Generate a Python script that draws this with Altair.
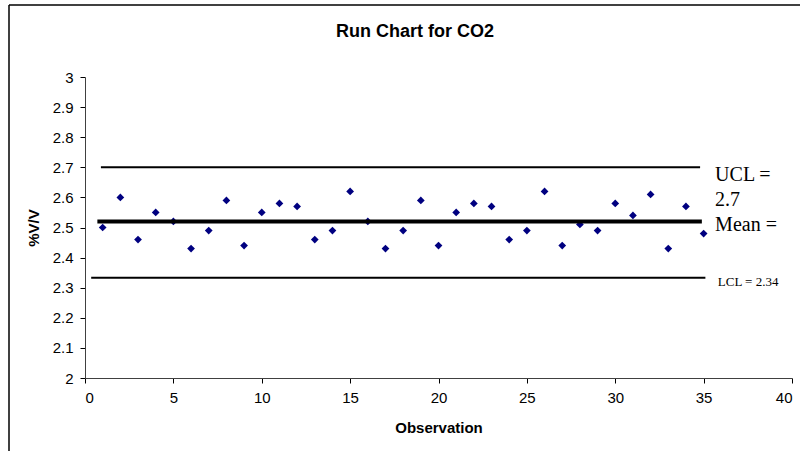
import altair as alt
import pandas as pd

observation = list(range(1, 36))
co2 = [2.50, 2.60, 2.46, 2.55, 2.52, 2.43, 2.49, 2.59, 2.44, 2.55,
       2.58, 2.57, 2.46, 2.49, 2.62, 2.52, 2.43, 2.49, 2.59, 2.44,
       2.55, 2.58, 2.57, 2.46, 2.49, 2.62, 2.44, 2.51, 2.49, 2.58,
       2.54, 2.61, 2.43, 2.57, 2.48]

x_ticks = [0, 5, 10, 15, 20, 25, 30, 35, 40]
y_ticks = [2.0, 2.1, 2.2, 2.3, 2.4, 2.5, 2.6, 2.7, 2.8, 2.9, 3.0]

line_names = ["UCL", "Mean", "LCL"]
line_values = [2.70, 2.52, 2.333]
line_start = [0.9, 0.7, 0.35]
line_end = [34.8, 34.9, 35.1]
line_widths = [2, 4, 2]

big_labels = ["UCL =", "2.7", "Mean ="]
big_label_y = [2.675, 2.592, 2.508]
lcl_label = ["LCL = 2.34"]
lcl_label_y = [2.318]

chart_title = ["Run Chart for CO2"]

pts = pd.DataFrame({"Observation": observation, "CO2": co2})
lines = pd.DataFrame({"name": line_names, "y": line_values,
                      "x1": line_start, "x2": line_end, "w": line_widths})
big = pd.DataFrame({"t": big_labels, "y": big_label_y, "x": [35.65] * 3})
small = pd.DataFrame({"t": lcl_label, "y": lcl_label_y, "x": [35.8]})
ttl = pd.DataFrame({"t": chart_title})

xs = alt.Scale(domain=[0, 40], nice=False)
ys = alt.Scale(domain=[2, 3], nice=False)

x_axis = alt.Axis(title="Observation", values=x_ticks, labelOverlap=False,
                  titlePadding=15, labelPadding=7)
y_axis = alt.Axis(title="%V/V", values=y_ticks, format=".1~f",
                  labelOverlap=False, titlePadding=11, labelPadding=7)

points = alt.Chart(pts).mark_point(shape="diamond", filled=True, size=60,
                                   color="#000080", opacity=1).encode(
    x=alt.X("Observation:Q", scale=xs, axis=x_axis),
    y=alt.Y("CO2:Q", scale=ys, axis=y_axis),
)

rules = alt.Chart(lines).mark_rule(color="#000000").encode(
    x=alt.X("x1:Q", scale=xs, axis=x_axis), x2="x2:Q",
    y=alt.Y("y:Q", scale=ys, axis=y_axis),
    strokeWidth=alt.StrokeWidth("w:Q", scale=None, legend=None),
)

big_text = alt.Chart(big).mark_text(font="Liberation Serif", fontSize=20,
                                    align="left", baseline="middle",
                                    color="#000").encode(
    x=alt.X("x:Q", scale=xs, axis=x_axis), y=alt.Y("y:Q", scale=ys, axis=y_axis),
    text="t:N")

small_text = alt.Chart(small).mark_text(font="Liberation Serif", fontSize=13,
                                        align="left", baseline="middle",
                                        color="#000").encode(
    x=alt.X("x:Q", scale=xs, axis=x_axis), y=alt.Y("y:Q", scale=ys, axis=y_axis),
    text="t:N")

title_text = alt.Chart(ttl).mark_text(font="Liberation Sans", fontSize=18,
                                      fontWeight="bold", align="center",
                                      baseline="middle", color="#000").encode(
    x=alt.value(330), y=alt.value(-45), text="t:N")

frame_left = alt.Chart(ttl).mark_rule(color="#000", strokeWidth=1.5).encode(
    x=alt.value(-76), y=alt.value(-72), y2=alt.value(380))
frame_top = alt.Chart(ttl).mark_rule(color="#000", strokeWidth=1.5).encode(
    x=alt.value(-76), x2=alt.value(720), y=alt.value(-72))

chart = alt.layer(points, rules, big_text, small_text, title_text,
                  frame_left, frame_top).properties(
    width=707, height=301,
    autosize=alt.AutoSizeParams(type="none"),
    padding={"left": 85, "top": 77, "right": 8, "bottom": 73},
    background="white",
).configure_view(stroke=None).configure_axis(
    grid=False, domainColor="#404040", tickColor="#000000",
    labelFont="Liberation Sans", labelFontSize=15, labelColor="#000",
    tickSize=5, titleFont="Liberation Sans", titleFontSize=15,
    titleFontWeight="bold", titleColor="#000",
)

chart.save("out.html", embed_options={"renderer": "svg", "actions": False})
